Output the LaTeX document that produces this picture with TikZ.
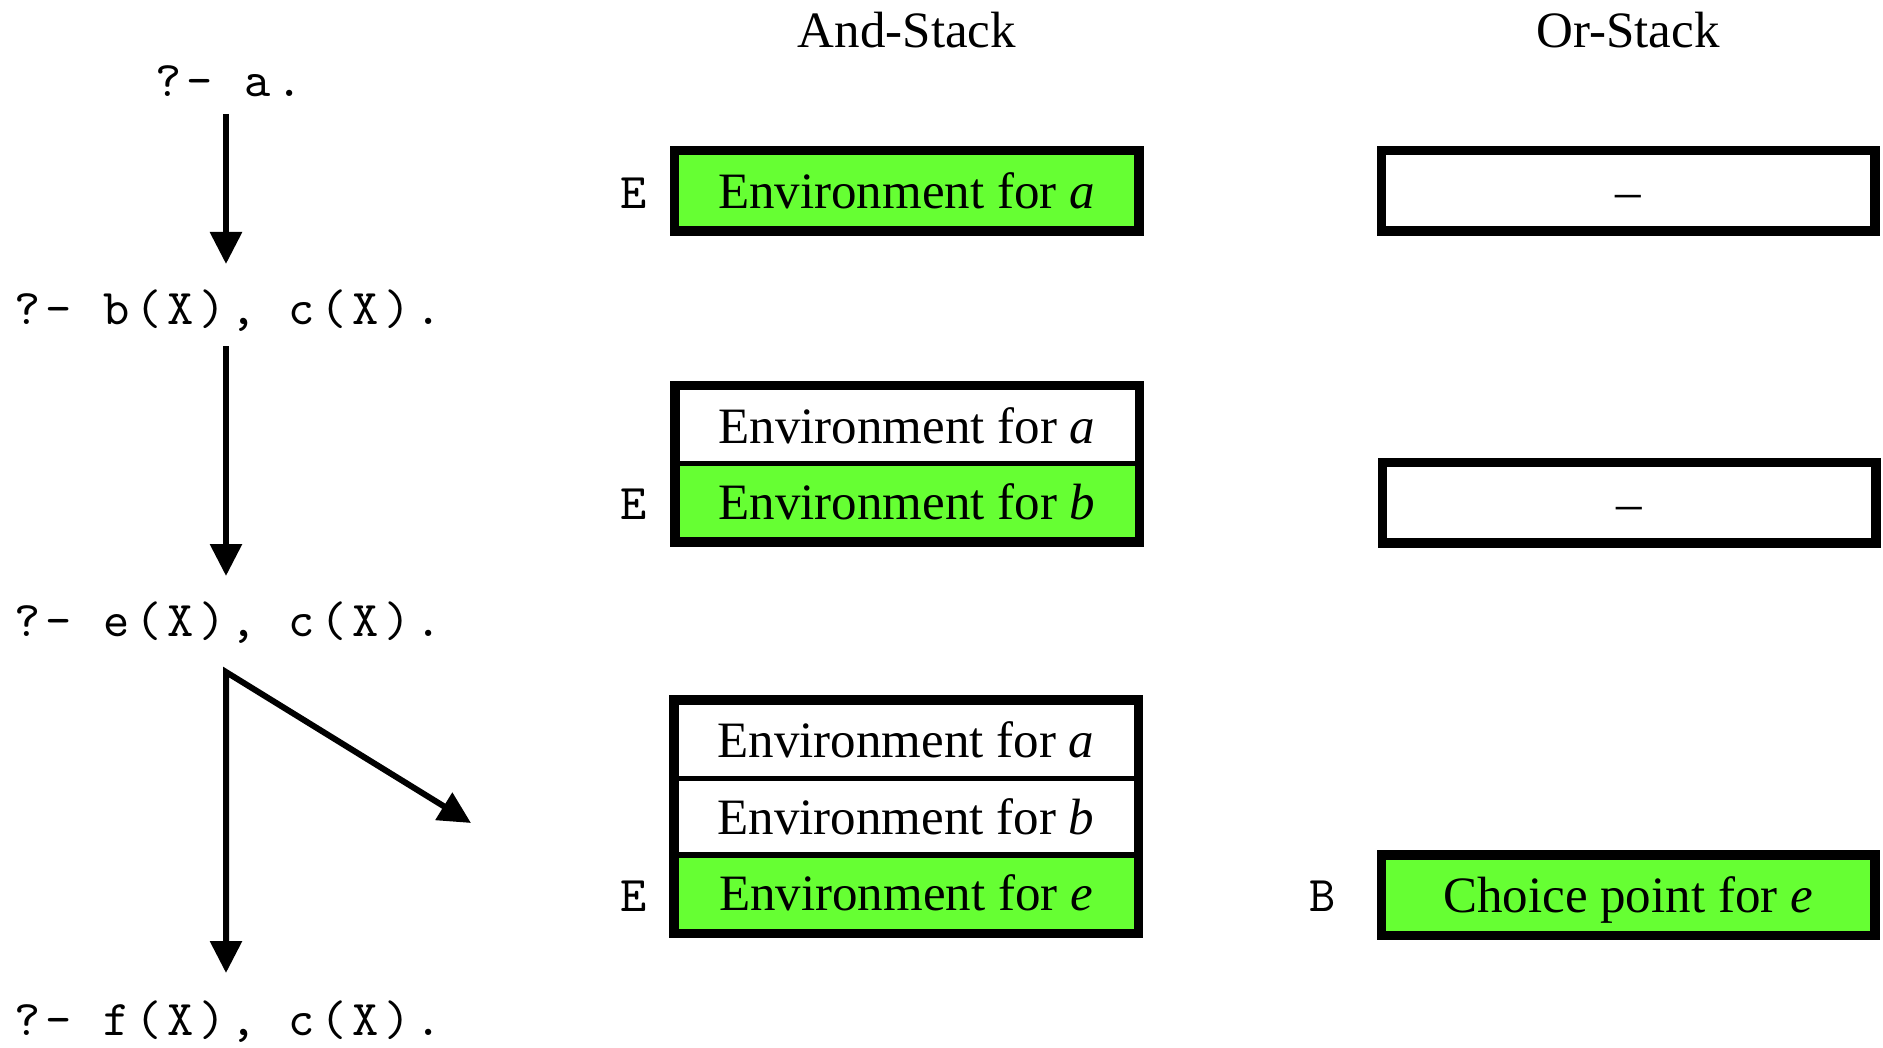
\documentclass[tikz,border=0pt]{standalone}
\usepackage{fontspec}
\setmainfont{Liberation Serif}
\newfontfamily\codefont{lmmono10-regular.otf}[LetterSpace=11]
\usetikzlibrary{arrows.meta,calc}
\definecolor{envgreen}{RGB}{102,255,51}
\begin{document}
\begin{tikzpicture}[x=0.5pt,y=-0.5pt,
  goal/.style={font=\fontsize{25}{30}\selectfont\codefont, inner sep=0pt,
    text height=15.5pt, text depth=0pt},
  reg/.style={goal},
  head/.style={font=\fontsize{25.5}{30}\selectfont, inner sep=0pt},
  cell/.style={draw, line width=2.5pt, minimum width=230pt, minimum height=38pt,
    inner sep=0pt, text height=17.5pt, text depth=0pt,
    font=\fontsize{25.5}{30}\selectfont},
  orcell/.style={cell, minimum width=244.5pt},
  active/.style={fill=envgreen},
  frame/.style={draw, line width=4.5pt},
  arr/.style={line width=3pt, line join=miter,
    -{Triangle[length=16pt,width=15.5pt]}},
  arrboth/.style={line width=3pt, line join=miter,
    {Triangle[length=16pt,width=15.5pt]}-{Triangle[length=16pt,width=15.5pt]}},
]
\useasboundingbox (0,0) rectangle (1883,1048);

% column headings
\node[head] (andh) at (907,30) {And-Stack};
\node[head] (orh)  at (1628,30) {Or-Stack};

% resolution steps
\node[goal] (q1) at (229,81)   {?- a.};
\node[goal] (q2) at (228,309)  {?- b(X), c(X).};
\node[goal] (q3) at (228,621)  {?- e(X), c(X).};
\node[goal] (q4) at (228,1020) {?- f(X), c(X).};

\draw[arr] ($(q1)+(-3,33)$) -- ($(q2)+(-2,-45)$);
\draw[arr] ($(q2)+(-2,37)$) -- ($(q3)+(-2,-45)$);
\coordinate (fork) at ($(q3)+(-2,51)$);
\coordinate (tryb) at (471,823);
\draw[arrboth] ($(q4)+(-2,-47)$) -- (fork) -- (tryb);

% and-stack, step 1
\node[cell, active] (s1a) at (906.5,191) {Environment for \textit{a}};
\draw[frame] (s1a.north west) rectangle (s1a.south east);
\node[reg] (e1) at (634,193) {E};

% and-stack, step 2
\node[cell] (s2a) at (907,425.5) {Environment for \textit{a}};
\node[cell, active] (s2b) at (907,501.5) {Environment for \textit{b}};
\draw[frame] (s2a.north west) rectangle (s2b.south east);
\node[reg] (e2) at (634,504) {E};

% and-stack, step 3
\node[cell] (s3a) at (906,740) {Environment for \textit{a}};
\node[cell] (s3b) at (906,816.5) {Environment for \textit{b}};
\node[cell, active] (s3e) at (906,893) {Environment for \textit{e}};
\draw[frame] (s3a.north west) rectangle (s3e.south east);
\node[reg] (e3) at (634,896) {E};

% or-stack
\node[orcell] (o1) at (1628,191) {--};
\draw[frame] (o1.north west) rectangle (o1.south east);
\node[orcell] (o2) at (1629,502.5) {--};
\draw[frame] (o2.north west) rectangle (o2.south east);
\node[orcell, active] (o3) at (1628,895) {Choice point for \textit{e}};
\draw[frame] (o3.north west) rectangle (o3.south east);
\node[reg] (b3) at (1323,896) {B};
\end{tikzpicture}
\end{document}
